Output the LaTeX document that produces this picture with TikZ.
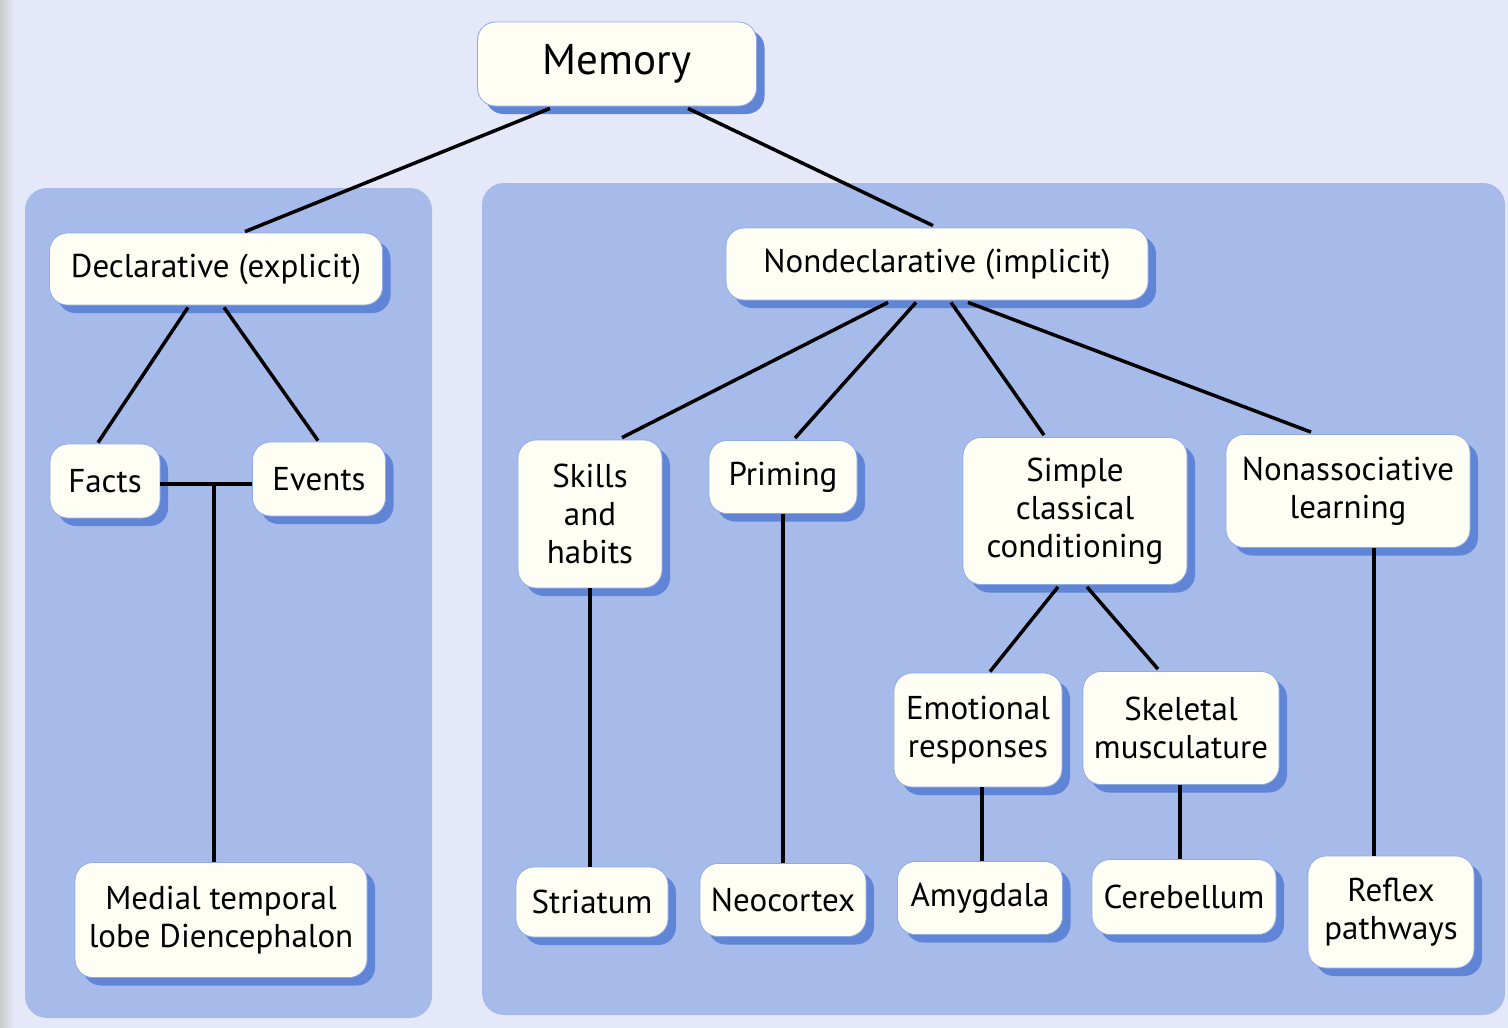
\documentclass[tikz,border=0pt]{standalone}
\usepackage{fontspec}
\setmainfont{PT Sans}
\usetikzlibrary{calc,shadows,positioning}
\definecolor{PageLav}{HTML}{E4E8F8}
\definecolor{PanelBlue}{HTML}{A7BBEA}
\definecolor{ShadeBlue}{HTML}{6085D6}
\definecolor{BoxCream}{HTML}{FFFEF4}
\tikzset{
    box/.style = {draw=ShadeBlue!70, fill=BoxCream, rounded corners=18pt,
        line width=0.8pt, align=center, inner sep=0pt,
        font=\fontsize{33}{38}\selectfont,
        drop shadow={shadow xshift=8pt, shadow yshift=-8pt, fill=ShadeBlue, opacity=1}},
    link/.style = {draw, line width=3.5pt, black},
    panel/.style = {fill=PanelBlue, rounded corners=22pt}
}

\begin{document}
\begin{tikzpicture}[x=1pt,y=-1pt]
                \useasboundingbox (0,0) rectangle (1508,1028);
                \fill[PageLav] (0,0) rectangle (1508,1028);
                \shade[left color=gray!40, right color=PageLav] (0,0) rectangle (14,1028);
                \fill[panel] (25,188) rectangle (432,1018);
                \fill[panel] (482,183) rectangle (1505,1015);
                % top levels
                \node [box, minimum width=279pt, minimum height=84pt, font=\fontsize{43}{48}\selectfont] (mem) at (617,64) {Memory};
                \node [box, minimum width=333pt, minimum height=72pt] (decl) at (216,269) {Declarative (explicit)};
                \node [box, minimum width=422pt, minimum height=72pt] (nond) at (937,264) {Nondeclarative (implicit)};
                % declarative side
                \node [box, minimum width=110pt, minimum height=74pt] (facts) at (105,481) {Facts};
                \node [box, minimum width=133pt, minimum height=74pt] (events) at (319,479) {Events};
                \node [box, minimum width=292pt, minimum height=115pt] (mtl) at (221,920) {Medial temporal\\lobe Diencephalon};
                % nondeclarative side
                \node [box, minimum width=144pt, minimum height=148pt] (skills) at (590,514) {Skills\\and\\habits};
                \node [box, minimum width=148pt, minimum height=73pt] (prim) at (783,477) {Priming};
                \node [box, minimum width=224pt, minimum height=147pt] (simple) at (1075,511) {Simple\\classical\\conditioning};
                \node [box, minimum width=244pt, minimum height=113pt] (nonas) at (1348,491) {Nonassociative\\learning};
                \node [box, minimum width=168pt, minimum height=114pt] (emo) at (978,730) {Emotional\\responses};
                \node [box, minimum width=196pt, minimum height=113pt] (skel) at (1181,728) {Skeletal\\musculature};
                \node [box, minimum width=152pt, minimum height=70pt] (stri) at (592,902) {Striatum};
                \node [box, minimum width=166pt, minimum height=73pt] (neo) at (783,900) {Neocortex};
                \node [box, minimum width=165pt, minimum height=73pt] (amyg) at (980,898) {Amygdala};
                \node [box, minimum width=184pt, minimum height=75pt] (cereb) at (1184,897) {Cerebellum};
                \node [box, minimum width=166pt, minimum height=112pt] (reflex) at (1391,912) {Reflex\\pathways};
                % links
                \draw[link] ($(mem.south)+(-67,2)$) -- ($(decl.north)+(29,-1)$);
                \draw[link] ($(mem.south)+(71,2)$) -- ($(nond.north)+(-4,-2)$);
                \draw[link] ($(decl.south)+(-28,2)$) -- ($(facts.north)+(-7,-1)$);
                \draw[link] ($(decl.south)+(8,2)$) -- ($(events.north)+(-1,-1)$);
                \coordinate (jn) at (214,484);
                \draw[link] (facts.east |- jn) -- (events.west |- jn);
                \draw[link] (jn) -- (jn |- mtl.north);
                \draw[link] ($(nond.south)+(-49,2)$) -- ($(skills.north)+(32,-2)$);
                \draw[link] ($(nond.south)+(-21,2)$) -- ($(prim.north)+(12,-2)$);
                \draw[link] ($(nond.south)+(14,2)$) -- ($(simple.north)+(-31,-2)$);
                \draw[link] ($(nond.south)+(31,2)$) -- ($(nonas.north)+(-37,-2)$);
                \draw[link] (skills.south) -- (skills.south |- stri.north);
                \draw[link] (prim.south) -- (prim.south |- neo.north);
                \draw[link] ($(simple.south)+(-17,2)$) -- ($(emo.north)+(12,-1)$);
                \draw[link] ($(simple.south)+(12,2)$) -- ($(skel.north)+(-23,-2)$);
                \draw[link] ($(emo.south)+(4,0)$) -- ($(amyg.north)+(2,0)$);
                \draw[link] ($(skel.south)+(-1,0)$) -- ($(cereb.north)+(-4,0)$);
                \draw[link] ($(nonas.south)+(26,0)$) -- ($(reflex.north)+(-17,0)$);
            \end{tikzpicture}
\end{document}
